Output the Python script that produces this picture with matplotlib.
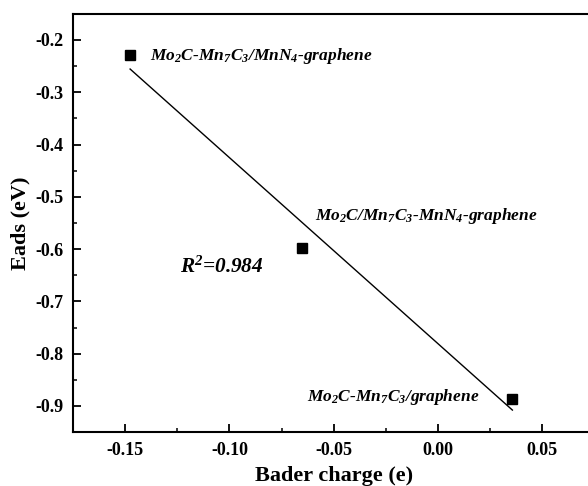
import numpy as np
import matplotlib
matplotlib.use('Agg')
from matplotlib import pyplot as plt
from matplotlib.ticker import MultipleLocator, AutoMinorLocator

plt.rcParams['font.family'] = ['Liberation Serif', 'DejaVu Serif']
plt.rcParams['font.weight'] = 'bold'
plt.rcParams['axes.unicode_minus'] = False
plt.rcParams['mathtext.fontset'] = 'custom'
plt.rcParams['mathtext.rm'] = 'Liberation Serif:bold:italic'
plt.rcParams['mathtext.it'] = 'Liberation Serif:bold:italic'
plt.rcParams['mathtext.bf'] = 'Liberation Serif:bold:italic'

# Bader charge (e) vs adsorption energy (eV)
bader = np.array([-0.1476, -0.065, 0.0357])
eads = np.array([-0.229, -0.598, -0.886])
names = ['Mo$_2$C-Mn$_7$C$_3$/MnN$_4$-graphene',
         'Mo$_2$C/Mn$_7$C$_3$-MnN$_4$-graphene',
         'Mo$_2$C-Mn$_7$C$_3$/graphene']
label_pos = [(-0.138, -0.238), (-0.059, -0.544), (-0.0628, -0.890)]

# linear fit through the three points
slope, icept = np.polyfit(bader, eads, 1)
pred = slope*bader + icept
r2 = 1 - np.sum((eads - pred)**2)/np.sum((eads - eads.mean())**2)

fig = plt.figure(figsize=(5.88, 4.86), dpi=100)
ax = fig.add_axes([0.1241, 0.1109, 0.8867, 0.8607])

ax.plot(bader, pred, color='black', lw=1.0)
ax.plot(bader, eads, 's', color='black', ms=7)

for nm, (tx, ty) in zip(names, label_pos):
    ax.text(tx, ty, nm, fontsize=12.5, fontstyle='italic', fontweight='bold',
            va='baseline', ha='left')

ax.text(-0.1237, -0.645, 'R$^2$=%.3f' % r2, fontsize=15.3, fontstyle='italic',
        fontweight='bold', va='baseline', ha='left')

ax.set_xlim(-0.175, 0.075)
ax.set_ylim(-0.95, -0.15)
ax.xaxis.set_major_locator(MultipleLocator(0.05))
ax.yaxis.set_major_locator(MultipleLocator(0.1))
ax.xaxis.set_minor_locator(AutoMinorLocator(2))
ax.yaxis.set_minor_locator(AutoMinorLocator(2))
ax.xaxis.set_major_formatter(plt.FormatStrFormatter('%.2f'))
ax.yaxis.set_major_formatter(plt.FormatStrFormatter('%.1f'))
ax.tick_params(which='major', direction='in', length=6, width=1.3,
               labelsize=13, pad=7)
ax.tick_params(which='minor', direction='in', length=3, width=1.1)
for sp in ax.spines.values():
    sp.set_linewidth(1.5)

ax.set_xlabel('Bader charge (e)', fontsize=16, fontweight='bold', labelpad=5)
ax.set_ylabel('Eads (eV)', fontsize=16, fontweight='bold', labelpad=3)

fig.savefig('out.png', dpi=100)
